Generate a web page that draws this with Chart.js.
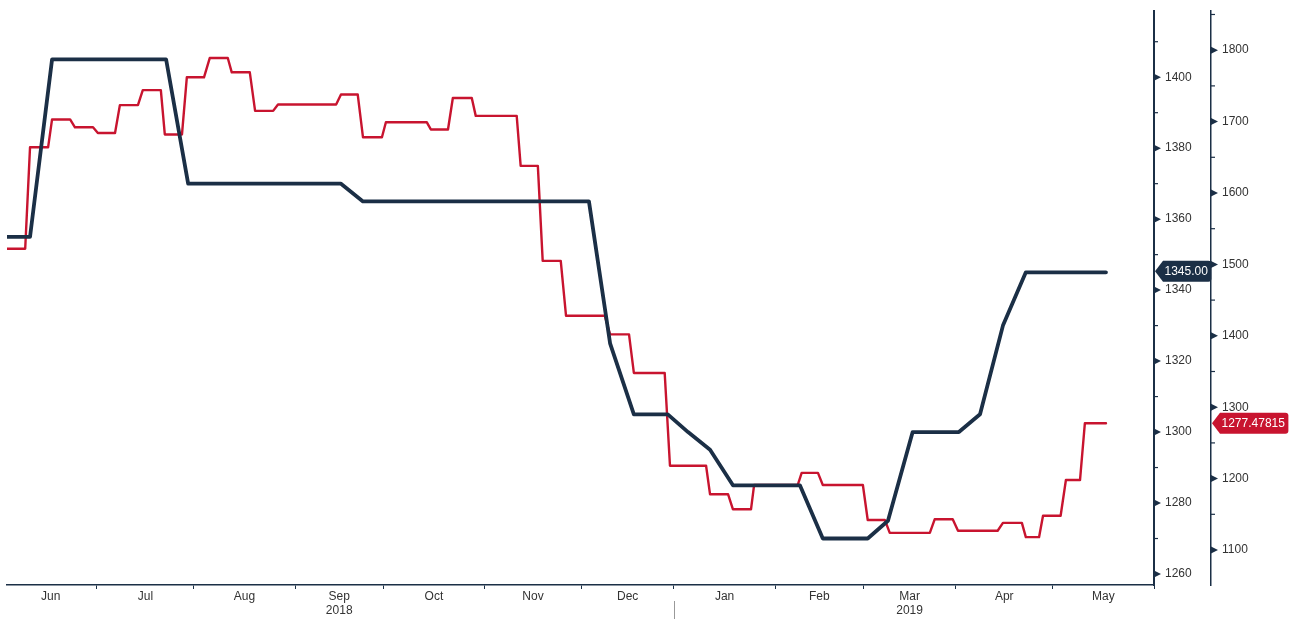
<!DOCTYPE html>
<html><head><meta charset="utf-8">
<script src="https://cdn.jsdelivr.net/npm/chart.js@4.4.0/dist/chart.umd.min.js"></script>
<style>html,body{margin:0;padding:0;background:#fff;overflow:hidden}#wrap{width:1301px;height:619px}</style>
</head><body><div id="wrap"><canvas id="c" width="1301" height="619"></canvas></div>
<script>
// x unit: weekday index counted from Fri 1 Jun 2018 (= 0)
const monthNames = ['Jun','Jul','Aug','Sep','Oct','Nov','Dec','Jan','Feb','Mar','Apr','May'];
const monthStarts = [0,21,43,66,86,109,131,152,175,195,216,238,261];
const yearOf = {Sep:'2018', Mar:'2019'};
const yearBreak = 152;

// navy series (left value axis)
const navyX = [0.57,5.8,10.8,36.7,41.7,76.4,81.4,132.7,137.5,142.9,150.6,155.2,160.2,165.4,180.6,185.8,196.0,200.6,206.2,216.7,221.5,226.7,231.9,250.1];
const navyY = [1355,1355,1405,1405,1370,1370,1365,1365,1325,1305,1305,1300,1295,1285,1285,1270,1270,1275,1300,1300,1305,1330,1345,1345];

// red series (right value axis): weekly levels
const redStart = [0.57,5.8,10.8,16.0,21.2,26.2,31.4,36.4,41.4,46.6,51.6,56.9,62.1,76.4,81.4,86.6,96.8,101.8,107.0,117.2,122.2,127.5,137.5,142.9,151.1,160.2,165.4,170.2,181.0,185.8,196.0,201.0,211.2,216.5,226.7,231.9,235.8,241.0,245.3];
const redEnd   = [4.7,9.9,14.9,20.1,25.1,30.3,35.5,40.3,45.3,50.7,55.7,61.0,75.3,80.2,85.7,95.9,100.7,106.1,116.3,121.1,126.3,136.3,141.8,149.9,159.3,164.3,169.5,180.1,184.7,194.9,199.9,210.1,215.3,225.5,231.0,234.9,239.8,244.2,250.1];
const redLevel = [1522,1664,1703,1692,1684,1723,1744,1682,1762,1789,1769,1715,1724,1738,1678,1699,1689,1733,1708,1638,1505,1428,1402,1348,1218,1178,1157,1191,1208,1191,1142,1124,1143,1127,1138,1118,1148,1198,1277.47815];

const navyTickValues = [1260,1270,1280,1290,1300,1310,1320,1330,1340,1350,1360,1370,1380,1390,1400,1410];
const redTickValues = [1100,1150,1200,1250,1300,1350,1400,1450,1500,1550,1600,1650,1700,1750,1800,1850];

const NAVY = '#1b2f46';
const RED = '#c8142f';
const TXT = '#333333';
const FONT = {family:'"Liberation Sans", Arial, sans-serif', size:12};

const navyPts = navyX.map((x,i)=>({x, y: navyY[i]}));
const redPts = [];
redLevel.forEach((v,i)=>{ redPts.push({x: redStart[i], y: v}); redPts.push({x: redEnd[i], y: v}); });

const XMIN = 0.57, XMAX = 261;
const labelAt = new Map();
const xTickValues = [];
monthStarts.forEach(v=>{ if (v>=XMIN && v<=XMAX) xTickValues.push(v); });
monthNames.forEach((m,i)=>{
  const mid = (monthStarts[i]+monthStarts[i+1])/2;
  xTickValues.push(mid);
  labelAt.set(mid, yearOf[m] ? [m, yearOf[m]] : m);
});
xTickValues.sort((a,b)=>a-b);
const isBoundary = v => monthStarts.includes(v);

function valueBox(c, tipX, cy, text, bg){
  c.save();
  c.font = '12px "Liberation Sans", Arial, sans-serif';
  const tw = c.measureText(text).width;
  const h = 21, d = 8, w = tw + 13, r = 3;
  c.fillStyle = bg;
  c.beginPath();
  c.moveTo(tipX, cy);
  c.lineTo(tipX + d, cy - h/2);
  c.lineTo(tipX + w - r, cy - h/2);
  c.quadraticCurveTo(tipX + w, cy - h/2, tipX + w, cy - h/2 + r);
  c.lineTo(tipX + w, cy + h/2 - r);
  c.quadraticCurveTo(tipX + w, cy + h/2, tipX + w - r, cy + h/2);
  c.lineTo(tipX + d, cy + h/2);
  c.closePath();
  c.fill();
  c.fillStyle = '#ffffff';
  c.textBaseline = 'middle';
  c.textAlign = 'left';
  c.fillText(text, tipX + 9.5, cy + 0.5);
  c.restore();
}

const decor = {
  id: 'decor',
  afterDraw(chart){
    const c = chart.ctx;
    c.save();
    ['y','y2'].forEach(id=>{
      const s = chart.scales[id];
      s.ticks.forEach(t=>{
        const py = s.getPixelForValue(t.value);
        c.fillStyle = NAVY; c.strokeStyle = NAVY;
        if (t.label !== '') {
          c.beginPath(); c.moveTo(s.left, py-3.5); c.lineTo(s.left+7, py); c.lineTo(s.left, py+3.5); c.closePath(); c.fill();
        } else {
          c.lineWidth = 1.2; c.beginPath(); c.moveTo(s.left, py); c.lineTo(s.left+4, py); c.stroke();
        }
      });
    });
    const xs = chart.scales.x;
    const px = Math.round(xs.getPixelForValue(yearBreak)) + 0.5;
    c.strokeStyle = '#999999'; c.lineWidth = 1;
    c.beginPath(); c.moveTo(px, xs.top + 16); c.lineTo(px, chart.height); c.stroke();
    c.restore();
    const ys = chart.scales.y, ys2 = chart.scales.y2;
    valueBox(c, ys.left + 1, ys.getPixelForValue(navyY[navyY.length-1]) - 1, navyY[navyY.length-1].toFixed(2), NAVY);
    valueBox(c, ys2.left + 1, ys2.getPixelForValue(redLevel[redLevel.length-1]), String(redLevel[redLevel.length-1]), RED);
  }
};

function setTicks(values){ return s => { s.ticks = values.map(v=>({value:v})); }; }

new Chart(document.getElementById('c'), {
  type: 'line',
  data: { datasets: [
    {label:'navy', data: navyPts, yAxisID:'y', borderColor: NAVY, borderWidth: 3.8, pointRadius: 0, tension: 0, borderJoinStyle:'round', borderCapStyle:'round', fill:false},
    {label:'red', data: redPts, yAxisID:'y2', borderColor: RED, borderWidth: 2.4, pointRadius: 0, tension: 0, borderJoinStyle:'round', borderCapStyle:'round', fill:false}
  ]},
  options: {
    responsive: false, animation: false,
    layout: {padding: {left: 7, top: 11, right: 0, bottom: 0}},
    plugins: {legend: {display: false}, tooltip: {enabled: false}},
    scales: {
      x: {
        type: 'linear', min: XMIN, max: XMAX,
        afterBuildTicks: setTicks(xTickValues),
        afterFit: s => { s.height = 34; },
        ticks: {autoSkip: false, maxRotation: 0, minRotation: 0, color: TXT, font: FONT, padding: 0,
          callback: v => labelAt.has(v) ? labelAt.get(v) : ''},
        grid: {drawOnChartArea: false, drawTicks: true, tickLength: 4, tickWidth: 1,
          tickColor: ctx => (ctx.tick && isBoundary(ctx.tick.value)) ? NAVY : 'rgba(0,0,0,0)'},
        border: {color: NAVY, width: 1.5}
      },
      y: {
        type: 'linear', position: 'right', weight: 0, min: 1256.9, max: 1418.6,
        afterBuildTicks: setTicks(navyTickValues),
        afterFit: s => { s.width = 57; },
        ticks: {color: TXT, font: FONT, padding: 4, callback: v => (v % 20 === 0) ? String(v) : ''},
        grid: {drawOnChartArea: false, drawTicks: true, tickLength: 7, tickColor: 'rgba(0,0,0,0)'},
        border: {color: NAVY, width: 2}
      },
      y2: {
        type: 'linear', position: 'right', weight: 1, min: 1051, max: 1854.6,
        afterBuildTicks: setTicks(redTickValues),
        afterFit: s => { s.width = 90; },
        ticks: {color: TXT, font: FONT, padding: 4, callback: v => (v % 100 === 0) ? String(v) : ''},
        grid: {drawOnChartArea: false, drawTicks: true, tickLength: 7, tickColor: 'rgba(0,0,0,0)'},
        border: {color: NAVY, width: 1.5}
      }
    }
  },
  plugins: [decor]
});
</script>
</body></html>
